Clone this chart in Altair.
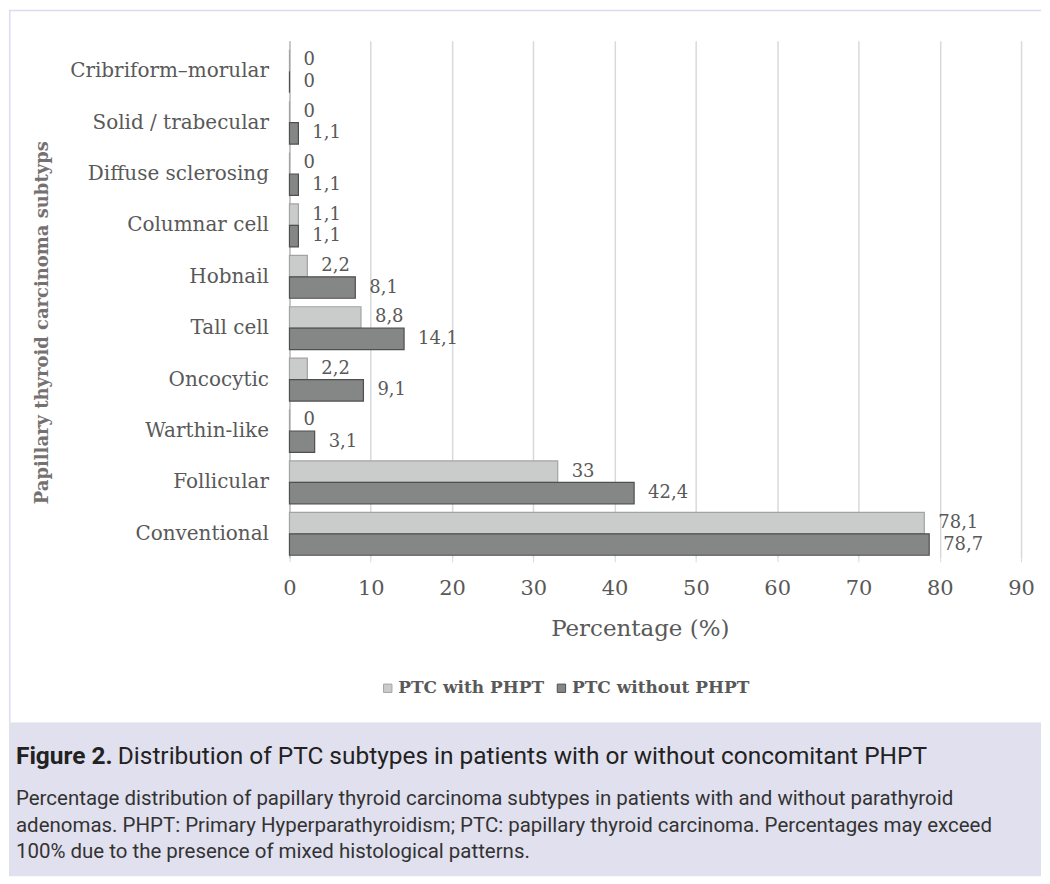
import altair as alt
import pandas as pd

# ---------------- data ----------------
categories = [
    "Cribriform–morular",
    "Solid / trabecular",
    "Diffuse sclerosing",
    "Columnar cell",
    "Hobnail",
    "Tall cell",
    "Oncocytic",
    "Warthin-like",
    "Follicular",
    "Conventional",
]
with_phpt = [0, 0, 0, 1.1, 2.2, 8.8, 2.2, 0, 33, 78.1]
without_phpt = [0, 1.1, 1.1, 1.1, 8.1, 14.1, 9.1, 3.1, 42.4, 78.7]
series_names = ["PTC with PHPT", "PTC without PHPT"]
x_ticks = [0, 10, 20, 30, 40, 50, 60, 70, 80, 90]

y_title = "Papillary thyroid carcinoma subtyps"
x_title = "Percentage (%)"
caption_bold = "Figure 2."
caption_title = "Distribution of PTC subtypes in patients with or without concomitant PHPT"
caption_lines = [
    "Percentage distribution of papillary thyroid carcinoma subtypes in patients with and without parathyroid",
    "adenomas. PHPT: Primary Hyperparathyroidism; PTC: papillary thyroid carcinoma. Percentages may exceed",
    "100% due to the presence of mixed histological patterns.",
]

rows = []
for s, vals in zip(series_names, [with_phpt, without_phpt]):
    for c, v in zip(categories, vals):
        rows.append({"category": c, "series": s, "value": v,
                     "label": f"{v:g}".replace(".", ",")})
df = pd.DataFrame(rows)
one = pd.DataFrame({"k": [0]})

SERIF = "DejaVu Serif"
SANS = "Roboto"
TXT = "#595959"
GRID = "#d9d9d9"

# plot origin sits at page (289, 39)
PX, PY = 289, 39
RIGHT = 1042  # page x of the right edge of the canvas
BOTTOM = 876  # page y of the bottom edge of the canvas

y_enc = alt.Y(
    "category:N", sort=categories,
    scale=alt.Scale(paddingInner=0.165, paddingOuter=0.112, align=0.78),
    axis=alt.Axis(
        title=y_title, titleFont=SERIF, titleFontSize=18, titleFontWeight="bold",
        titleColor="#767171", titleAngle=270, titleX=42 - PX, titleY=282,
        titleAlign="center", titleBaseline="middle",
        labelFont=SERIF, labelFontSize=20, labelColor=TXT, labelPadding=21,
        labelLimit=400, ticks=False, domainColor="#bfbfbf", domainWidth=1.5,
        grid=False,
    ),
)
x_enc = alt.X(
    "value:Q",
    scale=alt.Scale(domain=[0, 90], nice=False),
    axis=alt.Axis(
        values=x_ticks, title=x_title, titleFont=SERIF, titleFontSize=23,
        titleFontWeight="normal", titleColor=TXT, titleX=640 - PX, titleY=71,
        titleAlign="center", titleBaseline="middle",
        labelFont=SERIF, labelFontSize=21, labelColor=TXT, labelPadding=27,
        labelBaseline="middle", labelFlush=False, labelOverlap=False,
        tickSize=4, tickColor=GRID, domain=False,
        gridColor=GRID, gridWidth=1.5,
    ),
)
yoff = alt.YOffset("series:N", sort=series_names)

bars = alt.Chart(df).mark_bar(strokeWidth=1.2).encode(
    y=y_enc,
    x=x_enc,
    yOffset=yoff,
    color=alt.Color(
        "series:N",
        scale=alt.Scale(domain=series_names, range=["#cacbcb", "#858686"]),
        legend=alt.Legend(
            orient="none", legendX=90, legendY=640, direction="horizontal",
            title=None, labelFont=SERIF, labelFontSize=17, labelFontWeight="bold",
            labelColor=TXT, labelLimit=400, symbolType="square", symbolSize=70,
            symbolStrokeColor="#6f6f6f", symbolStrokeWidth=1,
            columnPadding=8, labelOffset=2,
        ),
    ),
    stroke=alt.Stroke(
        "series:N",
        scale=alt.Scale(domain=series_names, range=["#a3a3a3", "#4f4f4f"]),
        legend=None,
    ),
)

labels = alt.Chart(df).mark_text(
    align="left", baseline="middle", dx=14, font=SERIF, fontSize=18, color=TXT
).encode(y=y_enc, x=x_enc, yOffset=yoff, text="label:N")

caption_bg = alt.Chart(one).mark_rect(color="#e1e0ee").encode(
    x=alt.value(8 - PX), x2=alt.value(RIGHT - PX),
    y=alt.value(722 - PY), y2=alt.value(BOTTOM - PY),
)
top_line = alt.Chart(one).mark_rule(color="#dcdcf0", strokeWidth=1.5).encode(
    x=alt.value(8 - PX), x2=alt.value(RIGHT - PX), y=alt.value(8.75 - PY)
)
left_line = alt.Chart(one).mark_rule(color="#dcdcf0", strokeWidth=1.5).encode(
    x=alt.value(8.75 - PX), y=alt.value(8 - PY), y2=alt.value(722 - PY)
)

texts = [
    alt.Chart(one).mark_text(
        text=caption_bold, font=SANS, fontSize=24.5, fontWeight="bold",
        color="#222222", align="left", baseline="middle",
    ).encode(x=alt.value(15 - PX), y=alt.value(757 - PY)),
    alt.Chart(one).mark_text(
        text=caption_title, font=SANS, fontSize=24.5, color="#222222",
        align="left", baseline="middle",
    ).encode(x=alt.value(117 - PX), y=alt.value(757 - PY)),
]
for i, line in enumerate(caption_lines):
    texts.append(
        alt.Chart(one).mark_text(
            text=line, font=SANS, fontSize=20.5, color="#333333",
            align="left", baseline="middle",
        ).encode(x=alt.value(15 - PX), y=alt.value([799, 826, 852][i] - PY))
    )

chart = alt.layer(
    caption_bg, top_line, left_line, bars, labels, *texts
).properties(
    width=733, height=518, padding=0
).configure_view(stroke="transparent")

chart.save("out.html", embed_options={"renderer": "svg", "actions": False})
